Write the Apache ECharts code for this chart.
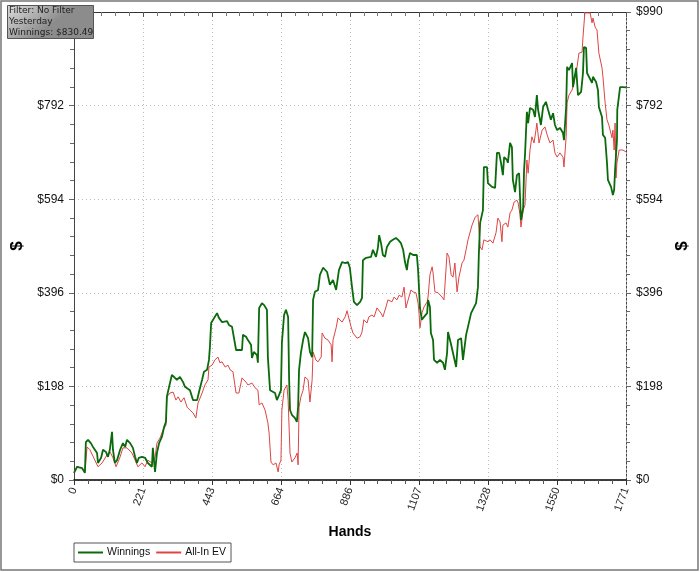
<!DOCTYPE html>
<html>
<head>
<meta charset="utf-8">
<script src="https://cdn.jsdelivr.net/npm/echarts@6/dist/echarts.min.js"></script>
<style>
html,body{margin:0;padding:0;background:#fff;}
#c{width:700px;height:572px;}
</style>
</head>
<body>
<div id="c"></div>
<script>
// ---- data (hands, dollars) ----
var winHands = [0,10,16,26,35,38,45,54,61,67,74,77,87,93,103,109,115,122,125,131,138,148,157,164,170,180,189,196,202,208,218,228,237,250,253,260,266,273,282,289,295,298,305,314,321,330,340,350,356,362,372,382,388,395,401,411,417,427,433,436,440,446,459,465,475,481,491,497,507,513,520,526,539,542,552,558,568,571,577,587,590,594,603,610,619,622,629,635,645,651,658,664,667,674,680,687,690,693,699,709,715,719,722,728,735,741,751,757,764,767,773,783,789,799,812,821,831,841,850,860,869,879,885,892,898,908,918,924,927,937,943,953,959,969,975,979,985,991,998,1004,1014,1023,1033,1040,1049,1056,1062,1068,1072,1078,1088,1100,1104,1110,1116,1123,1133,1136,1142,1145,1152,1155,1165,1174,1184,1190,1197,1200,1210,1216,1226,1232,1242,1248,1258,1264,1274,1280,1290,1296,1299,1303,1312,1315,1325,1328,1341,1351,1357,1364,1370,1376,1380,1389,1392,1399,1405,1408,1415,1421,1428,1434,1441,1444,1447,1453,1457,1463,1473,1479,1485,1489,1498,1505,1514,1521,1530,1537,1543,1550,1559,1569,1572,1579,1582,1588,1598,1601,1611,1617,1627,1633,1636,1643,1646,1652,1662,1665,1675,1681,1684,1694,1697,1704,1710,1713,1723,1729,1733,1736,1742,1743,1749,1752,1761,1771];
var winValues = [15,28,32,25,15,80,85,78,70,74,57,36,47,64,59,49,64,102,64,36,42,64,78,70,85,78,68,49,36,47,49,47,36,28,68,17,57,78,91,112,123,176,197,222,218,212,218,207,197,201,190,169,165,169,186,212,229,233,254,281,332,334,353,343,334,332,336,328,324,322,275,271,275,307,303,296,286,258,271,264,248,364,374,370,360,260,190,186,184,169,180,190,290,349,360,345,218,148,138,131,123,154,233,269,296,313,300,271,260,381,398,402,434,449,440,413,423,402,444,461,459,461,449,408,377,370,377,385,465,470,468,472,487,472,491,518,501,476,472,493,504,508,512,508,501,487,461,444,465,480,476,476,444,364,339,345,353,381,366,311,296,254,248,254,248,233,269,313,286,290,239,296,300,254,307,324,353,349,374,408,480,544,571,662,662,628,620,618,692,692,671,645,683,677,671,713,704,635,609,645,649,550,575,656,688,779,755,787,783,768,814,783,751,789,800,783,762,776,751,740,745,734,719,789,874,867,882,831,872,814,821,861,916,914,861,861,840,853,842,825,789,768,730,724,671,635,620,603,614,656,719,783,787,831,831,830.49];
var evHands = [0,10,16,26,35,42,51,77,90,106,116,125,135,148,157,170,186,196,205,218,228,237,250,260,266,276,286,295,298,308,318,327,334,343,353,363,372,382,391,398,411,420,430,433,443,452,462,468,475,485,494,501,510,520,529,539,552,558,571,581,590,594,603,613,622,626,632,639,648,655,658,664,667,674,683,687,693,699,709,716,719,722,728,735,741,751,757,764,767,776,783,793,796,805,815,825,828,831,841,847,860,870,876,889,895,908,918,924,930,940,946,956,963,972,975,985,991,1001,1007,1020,1027,1036,1043,1052,1059,1065,1072,1081,1088,1097,1104,1107,1110,1117,1123,1133,1136,1142,1149,1152,1158,1168,1174,1181,1187,1197,1203,1210,1216,1222,1229,1235,1245,1251,1258,1264,1277,1287,1296,1303,1309,1315,1328,1335,1344,1354,1360,1367,1373,1376,1386,1392,1399,1405,1412,1421,1425,1431,1434,1441,1447,1453,1457,1463,1469,1476,1482,1485,1492,1502,1511,1518,1527,1537,1543,1550,1559,1569,1572,1579,1582,1588,1598,1604,1614,1620,1630,1633,1639,1646,1656,1662,1665,1672,1678,1684,1694,1697,1704,1710,1716,1726,1729,1733,1736,1739,1742,1749,1752,1761,1771];
var evValues = [15,28,32,25,17,70,64,28,36,53,59,47,28,49,68,68,57,42,28,36,28,42,36,47,78,89,106,116,176,184,186,169,176,165,174,154,148,142,131,163,184,201,212,239,243,254,260,248,250,239,243,233,229,184,184,216,207,201,205,195,190,159,163,148,121,99,38,32,36,17,32,42,148,190,201,169,57,38,47,57,32,154,176,190,218,212,165,212,271,254,250,260,311,300,296,286,250,296,322,343,334,345,358,324,311,300,303,313,339,332,345,349,345,364,364,353,345,366,381,377,387,381,391,387,408,364,381,402,398,396,374,353,322,355,366,377,387,434,451,438,398,396,398,387,381,480,472,434,429,459,398,429,459,465,487,508,539,556,561,493,487,508,504,508,501,523,554,546,504,539,544,535,565,571,588,592,586,561,535,571,582,677,649,698,726,713,740,755,713,740,747,730,713,719,692,683,692,683,662,726,798,814,825,840,874,903,905,937,988,988,988,967,977,958,952,903,872,853,798,762,751,724,740,698,755,639,671,698,698,698,694];
var xTickValues = [0,221,443,664,886,1107,1328,1550,1771];
var yTickValues = [0,198,396,594,792,990];
var infoLines = ['Filter: No Filter','Yesterday','Winnings: $830.49'];

function pairs(xs, ys){ var o=[]; for(var i=0;i<xs.length;i++){o.push([xs[i],ys[i]]);} return o; }

var chart = echarts.init(document.getElementById('c'), null, {renderer:'canvas'});
var lblFont = "'Liberation Sans Narrow','Liberation Sans',Arial,sans-serif";
var yAxisBase = {
  type:'value', min:0, max:990, interval:198,
  nameLocation:'middle', name:'$', nameRotate:90,
  nameTextStyle:{fontSize:17, fontWeight:'bold', color:'#000', fontFamily:'Liberation Sans'},
  axisTick:{show:true, length:5, lineStyle:{color:'#666', width:1}},
  minorTick:{show:true, splitNumber:5, length:4, lineStyle:{color:'#666'}}
};
var option = {
  backgroundColor:'#fff',
  animation:false,
  grid:{left:74, right:74, top:12, bottom:92, containLabel:false},
  legend:{
    left:74, top:543, orient:'horizontal',
    data:['Winnings','All-In EV'],
    icon:'rect', itemWidth:25, itemHeight:2, itemGap:6,
    padding:[4,5,4,4],
    borderColor:'#555', borderWidth:1,
    textStyle:{fontSize:10.5, color:'#111', fontFamily:lblFont, padding:[0,0,0,-1]}
  },
  xAxis:[{
    type:'value', min:0, max:1771, interval:221.375,
    name:'Hands', nameLocation:'middle', nameGap:45,
    nameTextStyle:{fontSize:14, fontWeight:'bold', color:'#000', fontFamily:'Liberation Sans'},
    axisLine:{show:true, onZero:false, lineStyle:{color:'#000', width:1.5}},
    axisTick:{show:true, length:5, lineStyle:{color:'#333'}},
    minorTick:{show:true, splitNumber:5, length:4, lineStyle:{color:'#555'}},
    axisLabel:{rotate:70, color:'#222', fontSize:11, fontFamily:lblFont, margin:8,
      formatter:function(v){return String(Math.round(v));}},
    splitLine:{show:true, lineStyle:{color:'#bbb', type:[1,3], width:1}}
  },{
    type:'value', min:0, max:1771, interval:221.375, position:'top',
    axisLine:{show:true, onZero:false, lineStyle:{color:'#333', width:1}},
    axisTick:{show:true, inside:true, length:5, lineStyle:{color:'#555'}},
    minorTick:{show:true, splitNumber:5, length:4, lineStyle:{color:'#777'}},
    axisLabel:{show:false}, splitLine:{show:false}
  }],
  yAxis:[
    Object.assign({}, yAxisBase, {
      position:'left', nameGap:48,
      axisLabel:{formatter:function(v){return v>=990?'':'$'+Math.round(v);}, color:'#111', fontSize:12, fontFamily:lblFont, margin:10},
      axisLine:{show:true, onZero:false, lineStyle:{color:'#444', width:1}},
      splitLine:{show:true, lineStyle:{color:'#bbb', type:[1,3], width:1}}
    }),
    Object.assign({}, yAxisBase, {
      position:'right', nameGap:47,
      axisLabel:{formatter:function(v){return '$'+Math.round(v);}, color:'#111', fontSize:12, fontFamily:lblFont, margin:10},
      axisLine:{show:true, onZero:false, lineStyle:{color:'#444', width:1, type:[2,2]}},
      splitLine:{show:false}
    })
  ],
  series:[
    {name:'All-In EV', type:'line', data:pairs(evHands, evValues), showSymbol:false, symbol:'none',
     lineStyle:{color:'#dd4444', width:1}, itemStyle:{color:'#dd4444'}, z:2, clip:true},
    {name:'Winnings', type:'line', data:pairs(winHands, winValues), showSymbol:false, symbol:'none',
     lineStyle:{color:'#0b6a0b', width:1.8}, itemStyle:{color:'#0b6a0b'}, z:3, clip:true}
  ],
  graphic:[
    {type:'rect', z:100, silent:true,
     shape:{x:1, y:1, width:697, height:569},
     style:{fill:'none', stroke:'#777', lineWidth:1.5}},
    {type:'rect', z:110, silent:true, shape:{x:7.5, y:5.5, width:86, height:33},
       style:{stroke:'#555', lineWidth:1,
         fill:new echarts.graphic.LinearGradient(0,0,0.3,1,[{offset:0,color:'#dedede'},{offset:1,color:'#8c8c8c'}])}},
    {type:'text', z:111, silent:true, x:9, y:6, style:{text:infoLines[0], fontSize:9, fontFamily:'DejaVu Sans', fill:'#222'}},
    {type:'text', z:111, silent:true, x:9, y:17, style:{text:infoLines[1], fontSize:9, fontFamily:'DejaVu Sans', fill:'#222'}},
    {type:'text', z:111, silent:true, x:9, y:28, style:{text:infoLines[2], fontSize:9, fontFamily:'DejaVu Sans', fill:'#222'}}
  ]
};
chart.setOption(option);
</script>
</body>
</html>
